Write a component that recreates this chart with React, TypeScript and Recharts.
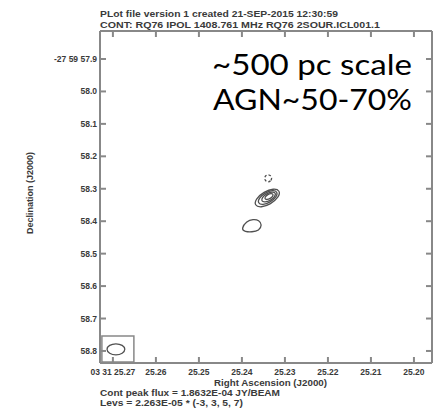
import { ScatterChart, Scatter, XAxis, YAxis, ReferenceArea } from 'recharts'

// axis ticks (RA seconds, Dec arcsec)
const raTicks = [25.27, 25.26, 25.25, 25.24, 25.23, 25.22, 25.21, 25.2]
const decTicks = [57.9, 58.0, 58.1, 58.2, 58.3, 58.4, 58.5, 58.6, 58.7, 58.8]
const raDomain = [25.1958, 25.273]
const decDomain = [57.8137, 58.8371]

// contour vertices (ra, dec), main source : levels 3, 5, 7...
const ringA = [
  { ra: 25.2311, dec: 58.3054 }, { ra: 25.2314, dec: 58.3258 }, { ra: 25.2333, dec: 58.3477 }, { ra: 25.2356, dec: 58.3584 },
  { ra: 25.2371, dec: 58.3516 }, { ra: 25.2368, dec: 58.3312 }, { ra: 25.2349, dec: 58.3093 }, { ra: 25.2326, dec: 58.2986 },
]
const ringB = [
  { ra: 25.2317, dec: 58.3089 }, { ra: 25.2319, dec: 58.3247 }, { ra: 25.2334, dec: 58.3417 }, { ra: 25.2352, dec: 58.3501 },
  { ra: 25.2363, dec: 58.3449 }, { ra: 25.2361, dec: 58.3291 }, { ra: 25.2346, dec: 58.3121 }, { ra: 25.2328, dec: 58.3037 },
]
const ringC = [
  { ra: 25.2321, dec: 58.3126 }, { ra: 25.2323, dec: 58.3239 }, { ra: 25.2333, dec: 58.3361 }, { ra: 25.2347, dec: 58.342 },
  { ra: 25.2355, dec: 58.3382 }, { ra: 25.2353, dec: 58.3269 }, { ra: 25.2343, dec: 58.3147 }, { ra: 25.2329, dec: 58.3088 },
]
const ringD = [
  { ra: 25.2327, dec: 58.3162 }, { ra: 25.2328, dec: 58.3231 }, { ra: 25.2334, dec: 58.3304 }, { ra: 25.2342, dec: 58.334 },
  { ra: 25.2347, dec: 58.3316 }, { ra: 25.2346, dec: 58.3247 }, { ra: 25.234, dec: 58.3174 }, { ra: 25.2332, dec: 58.3138 },
]
// negative (-3) contour, dashed
const negRing = [
  { ra: 25.233, dec: 58.2678 }, { ra: 25.2333, dec: 58.2763 }, { ra: 25.2339, dec: 58.2798 }, { ra: 25.2345, dec: 58.2763 },
  { ra: 25.2348, dec: 58.2678 }, { ra: 25.2345, dec: 58.2593 }, { ra: 25.2339, dec: 58.2558 }, { ra: 25.2333, dec: 58.2593 },
]
// second component to the south-east
const southBlob = [
  { ra: 25.2402, dec: 58.424 }, { ra: 25.2389, dec: 58.3994 }, { ra: 25.2374, dec: 58.3941 }, { ra: 25.236, dec: 58.3963 },
  { ra: 25.2353, dec: 58.4117 }, { ra: 25.236, dec: 58.4293 }, { ra: 25.2377, dec: 58.4333 }, { ra: 25.2393, dec: 58.4324 },
]
// restoring beam
const beam = [
  { ra: 25.267, dec: 58.7949 }, { ra: 25.2677, dec: 58.8082 }, { ra: 25.2693, dec: 58.8137 }, { ra: 25.2709, dec: 58.8082 },
  { ra: 25.2716, dec: 58.7949 }, { ra: 25.2709, dec: 58.7816 }, { ra: 25.2693, dec: 58.7761 }, { ra: 25.2677, dec: 58.7816 },
]
const beamBox = { ra1: 25.27256, ra2: 25.26512, dec1: 58.7539, dec2: 58.834 }

const INK = '#3a3a3a'
const LINE = '#505050'
const tickStyle = { fill: INK, fontSize: 8.5, fontWeight: 'bold', fontFamily: '"Liberation Sans", Arial, sans-serif' }

const noDot = () => <g />
const noLabel = () => <g />
const fmtRa = (v: number, i: number) => (i === 0 ? '03 31 ' : '') + v.toFixed(2)
const fmtDec = (v: number, i: number) => (i === 0 ? '-27 59 ' : '') + v.toFixed(1)

const contour = (key: string, data: any[], dashed = false) => (
  <Scatter
    key={key}
    data={data}
    dataKey="dec"
    line={{ stroke: LINE, strokeWidth: 1.3, strokeDasharray: dashed ? '2.5 2' : undefined }}
    lineJointType="basisClosed"
    shape={noDot}
    isAnimationActive={false}
  />
)

const small = { fontFamily: '"Liberation Sans", Arial, sans-serif', fontSize: 9.5, fontWeight: 'bold' as const, fill: INK }
const big = { fontFamily: 'Lato, "Open Sans", sans-serif', fontSize: 28, fill: '#000' }

export default function App() {
  return (
    <div style={{ position: 'absolute', left: 0, top: 0, width: 437, height: 409, background: '#fff' }}>
      <svg width={437} height={409} style={{ position: 'absolute', left: 0, top: 0 }}>
        <text x={100} y={17} textLength={238} lengthAdjust="spacingAndGlyphs" {...small}>PLot file version 1  created 21-SEP-2015 12:30:59</text>
        <text x={100} y={27.5} textLength={280} lengthAdjust="spacingAndGlyphs" {...small}>CONT: RQ76  IPOL  1408.761 MHz  RQ76 2SOUR.ICL001.1</text>
        <text x={33} y={193} transform="rotate(-90 33 193)" textAnchor="middle" {...small} fontSize={9}>Declination (J2000)</text>
        <text x={270.5} y={386} textAnchor="middle" textLength={113} lengthAdjust="spacingAndGlyphs" {...small} fontSize={9}>Right Ascension (J2000)</text>
        <text x={100} y={396} textLength={180} lengthAdjust="spacingAndGlyphs" {...small} fontSize={8.5}>Cont peak flux =  1.8632E-04 JY/BEAM</text>
        <text x={100} y={405.5} textLength={143} lengthAdjust="spacingAndGlyphs" {...small} fontSize={8.5}>Levs = 2.263E-05 * (-3, 3, 5, 7)</text>
        <text x={212} y={75} textLength={200} lengthAdjust="spacingAndGlyphs" {...big}>~500 pc scale</text>
        <text x={213} y={110} textLength={199} lengthAdjust="spacingAndGlyphs" {...big}>AGN~50-70%</text>
      </svg>
      <div style={{ position: 'absolute', left: 0, top: 0 }}>
        <ScatterChart width={437} height={409} margin={{ top: 30, right: 4, bottom: 0, left: 0 }}>
          <XAxis type="number" dataKey="ra" domain={raDomain} reversed ticks={raTicks} interval={0}
            height={46} tickSize={-6} tickMargin={12} tickLine={{ stroke: '#888', strokeWidth: 2 }} tick={tickStyle}
            tickFormatter={fmtRa} axisLine={{ stroke: '#888', strokeWidth: 2 }} allowDataOverflow />
          <XAxis xAxisId="top" orientation="top" type="number" dataKey="ra" domain={raDomain} reversed ticks={raTicks} interval={0}
            height={1} tickSize={-6} tickMargin={0} tickLine={{ stroke: '#888', strokeWidth: 2 }} tick={noLabel}
            axisLine={{ stroke: '#888', strokeWidth: 2 }} allowDataOverflow />
          <YAxis type="number" dataKey="dec" domain={decDomain} reversed ticks={decTicks} interval={0}
            width={100} tickSize={-6} tickMargin={9} tickLine={{ stroke: '#888', strokeWidth: 2 }} tick={tickStyle}
            tickFormatter={fmtDec} axisLine={{ stroke: '#888', strokeWidth: 2 }} allowDataOverflow />
          <YAxis yAxisId="right" orientation="right" type="number" dataKey="dec" domain={decDomain} reversed ticks={decTicks} interval={0}
            width={1} tickSize={-6} tickMargin={0} tickLine={{ stroke: '#888', strokeWidth: 2 }} tick={noLabel}
            axisLine={{ stroke: '#888', strokeWidth: 2 }} allowDataOverflow />
          <ReferenceArea x1={beamBox.ra1} x2={beamBox.ra2} y1={beamBox.dec1} y2={beamBox.dec2} ifOverflow="visible"
            fill="none" stroke="#888" strokeWidth={1.5} fillOpacity={0} />
          {contour('a', ringA)}
          {contour('b', ringB)}
          {contour('c', ringC)}
          {contour('d', ringD)}
          {contour('neg', negRing, true)}
          {contour('south', southBlob)}
          {contour('beam', beam)}
        </ScatterChart>
      </div>
    </div>
  )
}
